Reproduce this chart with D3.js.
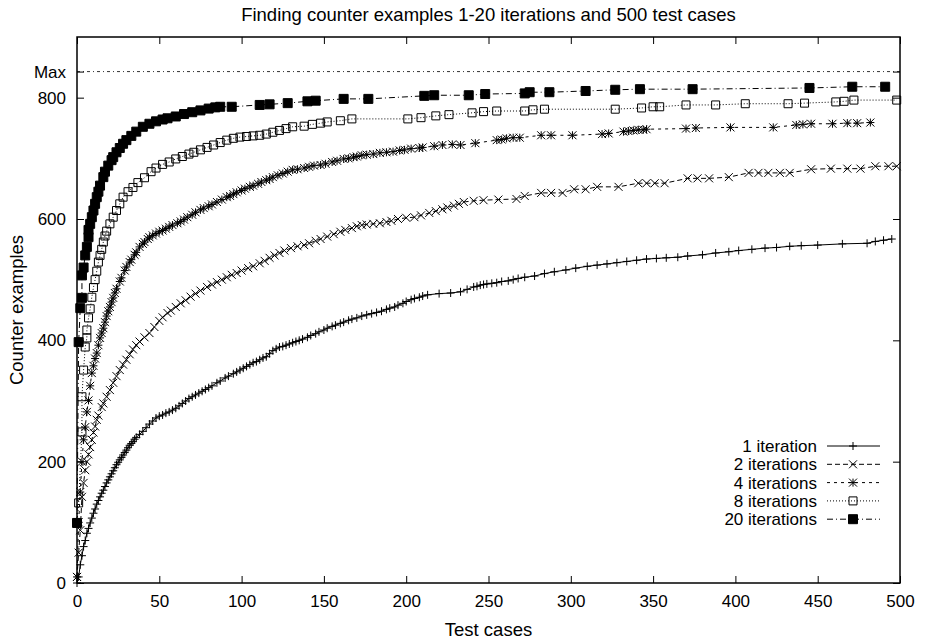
<!DOCTYPE html>
<html>
<head>
<meta charset="utf-8">
<script src="https://cdn.jsdelivr.net/npm/d3@7"></script>
<style>
  body { margin: 0; background: #fff; }
  svg { font-family: 'Liberation Sans', Arial, Helvetica, sans-serif; }
  .chart-title, .axis-title { font-size: 18.5px; fill: #000; }
  .legend-label { font-size: 17px; fill: #000; }
  .axis text { font-size: 17px; fill: #000; font-family: 'Liberation Sans', Arial, sans-serif; }
  .axis line { stroke: #000; stroke-width: 1; }
</style>
</head>
<body>
<div id="chart"></div>
<script>
// chart values
const chartTitle = 'Finding counter examples 1-20 iterations and 500 test cases';
const xTitle = 'Test cases';
const yTitle = 'Counter examples';
const xTicks = [0, 50, 100, 150, 200, 250, 300, 350, 400, 450, 500];
const yTicks = [0, 200, 400, 600, 800];
const maxValue = 843;
const seriesNames = ['1 iteration', '2 iterations', '4 iterations', '8 iterations', '20 iterations'];

// [test cases, counter examples]
const iter1 = [[0,0],[1,10],[2,30],[3,45],[4,60],[5,70],[6,82],[7,90],[8,99],[9,107],[10,115],[11,122],[12,130],[13,136],[14,142],[15,148],[16,153],[17,159],[18,165],[19,170],[20,175],[21,180],[22,185],[23,190],[24,195],[25,199],[26,203],[27,207],[28,211],[29,215],[30,219],[31,223],[32,227],[33,230],[34,233],[35,237],[36,240],[38,245],[40,250],[42,256],[44,262],[46,267],[48,272],[50,275],[52,277],[54,280],[56,282],[58,285],[60,288],[62,292],[64,296],[66,300],[68,304],[70,307],[72,310],[74,313],[76,316],[78,319],[80,322],[82,325],[85,330],[87,333],[90,338],[92,341],[95,345],[97,348],[99,351],[101,354],[103,357],[105,360],[107,363],[109,365],[111,368],[113,371],[115,373],[117,378],[119,383],[121,386],[123,389],[125,390],[127,392],[129,394],[131,396],[133,398],[135,400],[137,402],[140,405],[142,408],[145,411],[147,414],[150,417],[152,420],[155,423],[157,425],[160,428],[162,430],[165,433],[167,435],[170,437],[173,440],[176,442],[179,444],[182,446],[185,448],[188,451],[190,453],[193,455],[195,458],[198,461],[200,464],[203,467],[205,469],[208,471],[210,473],[213,475],[220,477],[227,478],[233,480],[237,484],[241,488],[243,489],[245,491],[247,492],[249,493],[252,494],[255,495],[258,497],[262,498],[265,500],[268,502],[272,504],[278,506],[284,510],[290,513],[297,516],[303,519],[310,522],[316,524],[322,526],[328,528],[334,530],[340,532],[346,534],[352,535],[358,536],[365,537],[371,539],[380,541],[388,544],[396,546],[402,548],[410,550],[418,552],[425,553],[433,555],[440,556],[450,557],[465,559],[480,560],[485,563],[490,565],[495,567]];
const iter2 = [[0,10],[1,50],[2,87],[3,142],[4,165],[5,186],[6,200],[7,212],[8,224],[9,236],[10,248],[11,258],[12,269],[13,276],[15,290],[16,296],[18,307],[20,318],[22,330],[24,341],[26,351],[28,360],[30,368],[32,377],[34,385],[36,392],[38,398],[41,405],[44,412],[47,422],[50,432],[52,438],[55,445],[57,449],[60,455],[63,461],[66,466],[69,472],[72,477],[75,482],[79,488],[82,492],[85,496],[88,500],[91,504],[94,508],[97,511],[100,515],[104,519],[107,522],[111,527],[114,531],[117,536],[120,540],[123,544],[126,548],[130,552],[134,555],[138,557],[141,560],[145,564],[148,567],[152,571],[156,575],[160,579],[163,582],[167,585],[170,588],[173,590],[176,591],[180,592],[184,593],[188,595],[191,597],[195,600],[200,602],[205,603],[209,606],[214,610],[218,613],[222,616],[225,619],[229,622],[232,625],[235,628],[241,630],[247,631],[256,632],[267,633],[272,638],[282,643],[288,643],[295,643],[302,649],[309,649],[316,653],[329,653],[341,659],[346,659],[351,659],[357,659],[371,667],[377,667],[384,667],[396,669],[408,676],[414,676],[420,676],[427,676],[433,676],[446,682],[458,683],[468,683],[476,683],[485,687],[493,687],[498,687]];
const iter4 = [[0,10],[1,100],[2,150],[3,200],[4,236],[5,257],[6,282],[7,301],[8,325],[9,346],[10,358],[11,370],[12,379],[13,392],[14,404],[15,412],[16,420],[17,430],[18,440],[19,448],[20,455],[21,463],[22,470],[23,478],[24,485],[26,497],[27,503],[29,515],[30,521],[32,529],[33,533],[35,541],[36,545],[38,554],[40,559],[41,562],[43,567],[44,570],[46,573],[48,576],[50,579],[52,581],[54,584],[56,587],[58,590],[61,593],[63,596],[65,599],[67,603],[70,607],[72,611],[75,615],[77,618],[80,621],[82,624],[85,628],[88,632],[91,636],[93,638],[95,641],[97,644],[100,647],[102,650],[105,653],[107,655],[110,658],[112,661],[115,664],[117,666],[119,669],[122,672],[125,675],[128,678],[131,681],[134,682],[138,684],[141,686],[144,688],[148,689],[151,691],[155,694],[158,696],[162,699],[165,700],[168,702],[170,703],[173,705],[176,706],[180,707],[184,709],[188,710],[192,711],[196,713],[199,714],[203,716],[208,717],[210,718],[217,720],[222,722],[228,723],[233,722],[242,725],[255,730],[258,731],[261,733],[265,734],[269,734],[282,738],[288,738],[301,738],[319,740],[323,741],[332,744],[335,745],[338,746],[341,747],[344,747],[346,748],[370,749],[376,750],[397,751],[423,751],[437,755],[441,756],[446,757],[459,757],[468,758],[474,758],[482,759]];
const iter8 = [[0,99],[1,132],[3,249],[3,307],[4,351],[5,389],[6,404],[6,417],[7,437],[8,452],[9,471],[10,487],[11,500],[12,514],[13,529],[14,540],[15,550],[16,562],[17,572],[18,580],[20,592],[22,603],[24,614],[26,625],[28,636],[31,645],[34,652],[37,660],[41,668],[45,678],[48,684],[52,690],[56,694],[60,699],[64,703],[68,707],[71,710],[75,714],[79,718],[83,722],[87,726],[91,730],[95,733],[99,735],[103,736],[107,737],[111,738],[115,740],[119,743],[123,746],[127,749],[131,752],[138,753],[143,756],[148,758],[152,760],[160,762],[167,765],[201,765],[209,767],[218,770],[226,772],[240,775],[247,777],[255,778],[272,778],[277,780],[284,781],[327,781],[343,783],[350,785],[354,785],[370,788],[388,788],[406,790],[432,790],[442,791],[461,793],[466,794],[472,796],[498,796]];
const iter20 = [[0,99],[1,397],[2,453],[3,470],[3,507],[4,520],[5,540],[6,554],[7,570],[7,582],[8,592],[9,603],[10,614],[11,625],[12,636],[13,645],[14,655],[16,669],[17,678],[19,688],[21,697],[22,702],[24,710],[26,717],[28,724],[30,730],[33,737],[36,744],[40,752],[44,757],[48,761],[52,764],[55,766],[60,769],[65,773],[70,776],[75,779],[80,782],[84,784],[87,785],[94,785],[111,788],[117,789],[128,791],[140,794],[145,795],[162,798],[177,798],[211,803],[217,804],[238,804],[248,806],[272,807],[275,809],[287,809],[309,811],[327,813],[342,814],[374,814],[445,816],[471,818],[491,818]];

class CurvePlot {

  constructor(_config, _data) {
    this.config = {
      parentElement: _config.parentElement,
      containerWidth: 927,
      containerHeight: 640,
      margin: {top: 37, right: 27, bottom: 57, left: 77},
      tickLength: 7,
      markerSize: 4,
    }
    this.data = _data;
    this.initVis();
  }

  initVis() {
    let vis = this;
    const cfg = vis.config;
    cfg.width = cfg.containerWidth - cfg.margin.left - cfg.margin.right;
    cfg.height = cfg.containerHeight - cfg.margin.top - cfg.margin.bottom;

    vis.svg = d3.select(cfg.parentElement).append('svg')
        .attr('width', cfg.containerWidth)
        .attr('height', cfg.containerHeight);

    vis.chart = vis.svg.append('g')
        .attr('transform', `translate(${cfg.margin.left},${cfg.margin.top})`);

    vis.xScale = d3.scaleLinear().domain([0, 500]).range([0, cfg.width]);
    vis.yScale = d3.scaleLinear().domain([0, 900]).range([cfg.height, 0]);

    // ticks point inwards on all four sides, like gnuplot
    const t = -cfg.tickLength;
    vis.xAxis = d3.axisBottom(vis.xScale).tickValues(xTicks).tickSize(t).tickPadding(12);
    vis.yAxis = d3.axisLeft(vis.yScale).tickValues([...yTicks, maxValue]).tickSize(t).tickPadding(11)
        .tickFormat(d => d === maxValue ? 'Max' : d);
    vis.xAxisTop = d3.axisTop(vis.xScale).tickValues(xTicks).tickSize(t).tickFormat('');
    vis.yAxisRight = d3.axisRight(vis.yScale).tickValues([...yTicks, maxValue]).tickSize(t).tickFormat('');

    vis.chart.append('g').attr('class', 'axis')
        .attr('transform', `translate(0,${cfg.height})`)
        .call(vis.xAxis);
    vis.chart.append('g').attr('class', 'axis').call(vis.yAxis);
    vis.chart.append('g').attr('class', 'axis').call(vis.xAxisTop);
    vis.chart.append('g').attr('class', 'axis')
        .attr('transform', `translate(${cfg.width},0)`)
        .call(vis.yAxisRight);
    vis.chart.selectAll('.axis .domain').remove();
    vis.chart.selectAll('.axis text').attr('font-size', null).attr('font-family', null);

    vis.chart.append('rect')
        .attr('width', cfg.width)
        .attr('height', cfg.height)
        .attr('fill', 'none')
        .attr('stroke', '#000')
        .attr('stroke-width', 1.5);

    vis.svg.append('text')
        .attr('class', 'chart-title')
        .attr('x', cfg.margin.left + cfg.width / 2)
        .attr('y', 21)
        .style('text-anchor', 'middle')
        .text(chartTitle);

    vis.svg.append('text')
        .attr('class', 'axis-title')
        .attr('x', cfg.margin.left + cfg.width / 2)
        .attr('y', 636)
        .style('text-anchor', 'middle')
        .text(xTitle);

    vis.svg.append('text')
        .attr('class', 'axis-title')
        .attr('transform', `translate(23,${cfg.margin.top + cfg.height / 2}) rotate(-90)`)
        .style('text-anchor', 'middle')
        .text(yTitle);

    vis.renderVis();
  }

  markerPath(type) {
    const s = this.config.markerSize;
    const plus = `M${-s},0H${s}M0,${-s}V${s}`;
    const cross = `M${-s},${-s}L${s},${s}M${-s},${s}L${s},${-s}`;
    if (type === 'plus') return plus;
    if (type === 'cross') return cross;
    if (type === 'star') return plus + cross;
    const q = type === 'fill' ? s + 0.5 : s;
    return `M${-q},${-q}H${q}V${q}H${-q}Z`;
  }

  renderVis() {
    let vis = this;
    const cfg = vis.config;

    // Max reference line
    vis.chart.append('line')
        .attr('x1', 0).attr('x2', cfg.width)
        .attr('y1', vis.yScale(maxValue)).attr('y2', vis.yScale(maxValue))
        .attr('stroke', '#000')
        .attr('stroke-width', 0.8)
        .attr('stroke-dasharray', '3,3,1,3');

    const line = d3.line()
        .x(d => vis.xScale(d[0]))
        .y(d => vis.yScale(d[1]));

    vis.data.forEach(s => {
      const g = vis.chart.append('g');
      g.append('path')
          .datum(s.values)
          .attr('d', line)
          .attr('fill', 'none')
          .attr('stroke', '#000')
          .attr('stroke-width', 1)
          .attr('stroke-dasharray', s.dash);
      g.selectAll('.point')
          .data(s.values)
        .join('path')
          .attr('class', 'point')
          .attr('transform', d => `translate(${vis.xScale(d[0])},${vis.yScale(d[1])})`)
          .attr('d', vis.markerPath(s.marker))
          .attr('fill', s.marker === 'fill' ? '#000' : 'none')
          .attr('stroke', '#000')
          .attr('stroke-width', 1);
    });

    // legend, bottom right
    const legend = vis.svg.append('g');
    vis.data.forEach((s, i) => {
      const y = 446 + i * 18.3;
      legend.append('text')
          .attr('class', 'legend-label')
          .attr('x', 817)
          .attr('y', y + 6)
          .style('text-anchor', 'end')
          .text(s.name);
      legend.append('line')
          .attr('x1', 827).attr('x2', 880)
          .attr('y1', y).attr('y2', y)
          .attr('stroke', '#000')
          .attr('stroke-dasharray', s.dash);
      legend.append('path')
          .attr('transform', `translate(853,${y})`)
          .attr('d', vis.markerPath(s.marker))
          .attr('fill', s.marker === 'fill' ? '#000' : 'none')
          .attr('stroke', '#000');
    });
  }
}

const markers = ['plus', 'cross', 'star', 'square', 'fill'];
const dashes = [null, '5,3', '3,4', '1,2', '6,3,1,3'];
const chartData = [iter1, iter2, iter4, iter8, iter20].map((values, i) => ({
  name: seriesNames[i], values: values, marker: markers[i], dash: dashes[i]
}));

new CurvePlot({parentElement: '#chart'}, chartData);
</script>
</body>
</html>
